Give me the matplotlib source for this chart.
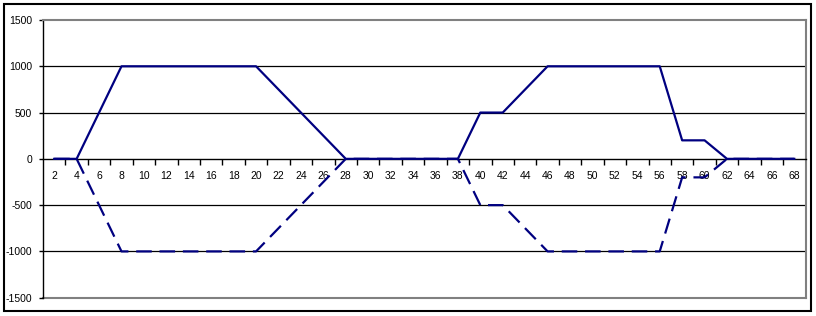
import matplotlib
matplotlib.use("Agg")
import matplotlib.pyplot as plt
from matplotlib.patches import Rectangle
from matplotlib.ticker import FixedLocator, NullFormatter

plt.rcParams['font.family'] = ['Liberation Sans', 'DejaVu Sans']
plt.rcParams['axes.unicode_minus'] = False

# category axis 2..68
categories = list(range(2, 69))
upper = [0, 0, 0, 250, 500, 750, 1000,
         1000, 1000, 1000, 1000, 1000, 1000, 1000, 1000, 1000, 1000, 1000, 1000,
         875, 750, 625, 500, 375, 250, 125, 0,
         0, 0, 0, 0, 0, 0, 0, 0, 0, 0,
         250, 500, 500, 500, 625, 750, 875, 1000,
         1000, 1000, 1000, 1000, 1000, 1000, 1000, 1000, 1000, 1000,
         600, 200, 200, 200, 100, 0,
         0, 0, 0, 0, 0, 0]
lower = [-v for v in upper]
y_ticks = [1500, 1000, 500, 0, -500, -1000, -1500]
x_labels = list(range(2, 69, 2))

W, H = 816, 316
fig = plt.figure(figsize=(W / 100, H / 100), dpi=100)
ax = fig.add_axes([43 / W, 1 - 297.7 / H, (805.5 - 43) / W, (297.7 - 20) / H])

navy = '#000080'
ax.plot(categories, upper, color=navy, lw=1.6, zorder=4)
ax.plot(categories, lower, color=navy, lw=1.6, dashes=(7, 3.5), zorder=4)

ax.set_xlim(1, 69)
ax.set_ylim(-1500, 1500)

# gridlines
for v in [1000, 500, -500, -1000]:
    ax.axhline(v, color='black', lw=0.9, zorder=0)
ax.axhline(-1500, color='#808080', lw=1.5, zorder=1, clip_on=False)

for s in ['top', 'right']:
    ax.spines[s].set_color('#808080')
    ax.spines[s].set_linewidth(1.5)
ax.spines['left'].set_color('black')
ax.spines['left'].set_linewidth(1.0)
ax.spines['bottom'].set_position(('data', 0))
ax.spines['bottom'].set_color('black')
ax.spines['bottom'].set_linewidth(1.0)

ax.set_yticks(y_ticks)
ax.set_yticklabels([str(v) for v in y_ticks])
ax.tick_params(axis='y', direction='out', length=3, width=1, labelsize=7.5, pad=5)

ax.xaxis.set_major_locator(FixedLocator(list(range(3, 69, 2))))
ax.xaxis.set_major_formatter(NullFormatter())
ax.set_xticks(x_labels, minor=True)
ax.set_xticklabels([str(v) for v in x_labels], minor=True)
ax.tick_params(axis='x', which='major', direction='out', length=4, width=1)
ax.tick_params(axis='x', which='minor', length=0, labelsize=7.5, pad=9)

# outer chart border
fig.patches.append(Rectangle((4 / W, 1 - 311 / H), (811 - 4) / W, (311 - 4) / H,
                             transform=fig.transFigure, fill=False,
                             edgecolor='black', lw=1.5))

fig.savefig('out.png', dpi=100)
